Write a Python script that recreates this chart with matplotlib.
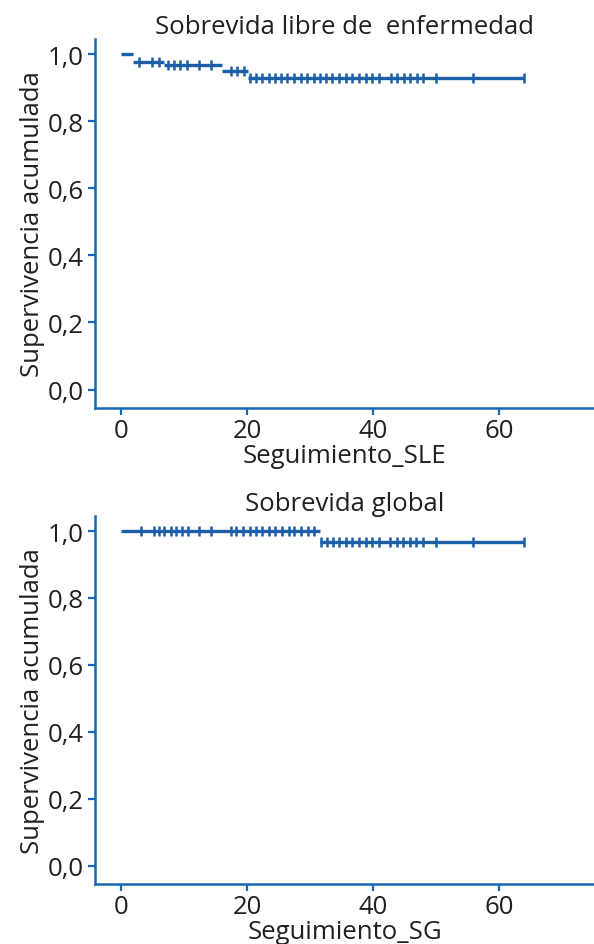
import numpy as np
import matplotlib
matplotlib.use("Agg")
import matplotlib.pyplot as plt

plt.rcParams['font.family'] = ['Open Sans', 'DejaVu Sans']

# ---- data ----
sle_level_start = [0.0, 1.9, 6.8, 16.1, 20.1]
sle_level_surv = [1.0, 0.977, 0.967, 0.949, 0.929]
sle_censor = [2.9, 5.0, 6.0, 7.4, 8.4, 9.4, 10.5, 12.4, 14.3, 17.4, 18.4, 19.5,
              20.5, 21.4, 22.4, 23.4, 24.4, 25.4, 26.4, 27.4, 28.5, 29.5, 30.6,
              31.6, 32.5, 33.5, 34.6, 35.7, 36.7, 37.7, 38.8, 39.8, 40.9, 42.8,
              43.8, 44.9, 45.9, 46.9, 47.9, 49.9, 55.8, 63.9]

sg_level_start = [0.0, 31.6]
sg_level_surv = [1.0, 0.968]
sg_censor = [3.2, 5.2, 6.1, 6.9, 7.9, 8.8, 9.7, 10.6, 12.4, 14.3, 17.4, 18.3,
             19.4, 20.4, 21.4, 22.4, 23.4, 24.5, 25.5, 26.6, 27.5, 28.6, 29.6,
             30.6, 31.7, 32.6, 33.6, 34.6, 35.7, 36.7, 37.7, 38.8, 39.8, 40.9,
             42.7, 43.8, 44.8, 45.9, 46.8, 47.9, 49.9, 55.8, 63.9]

titles = ["Sobrevida libre de  enfermedad", "Sobrevida global"]
xlabels = ["Seguimiento_SLE", "Seguimiento_SG"]
ylabel = "Supervivencia acumulada"
xticks = [0, 20, 40, 60]
yticks = [0.0, 0.2, 0.4, 0.6, 0.8, 1.0]
ytick_labels = ["0,0", "0,2", "0,4", "0,6", "0,8", "1,0"]

LINE = "#1c5ea8"
SPINE = "#1867b6"
TXT = "#231f20"
FS = 18.5

fig = plt.figure(figsize=(5.94, 9.45), dpi=100)
ax1 = fig.add_axes([0.160, 0.5672, 0.840, 0.3905])
ax2 = fig.add_axes([0.160, 0.0635, 0.840, 0.3894])

datasets = [(sle_level_start, sle_level_surv, sle_censor),
            (sg_level_start, sg_level_surv, sg_censor)]

for ax, (starts, surv, cens), title, xl in zip([ax1, ax2], datasets, titles, xlabels):
    starts = np.array(starts)
    surv = np.array(surv)
    cens = np.array(cens)
    ends = np.append(starts[1:], cens.max())
    ax.hlines(surv, starts, ends, colors=LINE, linewidth=2.4)
    idx = np.searchsorted(starts, cens, side='right') - 1
    ax.plot(cens, surv[idx], linestyle='none', marker='|', markersize=6.5,
            markeredgewidth=1.8, color=LINE)
    ax.set_xlim(-4.1, 75)
    ax.set_ylim(-0.055, 1.045)
    ax.set_xticks(xticks)
    ax.set_xticklabels([str(t) for t in xticks])
    ax.set_yticks(yticks)
    ax.set_yticklabels(ytick_labels)
    for s in ['top', 'right']:
        ax.spines[s].set_visible(False)
    for s in ['left', 'bottom']:
        ax.spines[s].set_color(SPINE)
        ax.spines[s].set_linewidth(1.8)
    ax.tick_params(axis='both', direction='out', length=5, width=1.6,
                   color=SPINE, labelcolor=TXT, labelsize=FS, pad=3)
    ax.tick_params(axis='x', pad=2)
    ax.set_title(title, fontsize=FS, color=TXT, pad=2)
    ax.set_xlabel(xl, fontsize=FS, color=TXT, labelpad=0)
    ax.set_ylabel(ylabel, fontsize=FS, color=TXT, labelpad=2)

fig.savefig("out.png", dpi=100, facecolor="white")
